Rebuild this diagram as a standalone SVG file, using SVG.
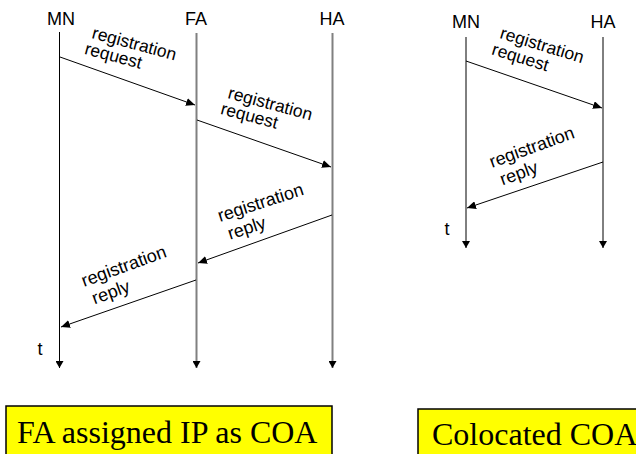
<svg xmlns="http://www.w3.org/2000/svg" width="636" height="454" viewBox="0 0 636 454">
<defs>
<marker id="ah" markerUnits="userSpaceOnUse" markerWidth="10" markerHeight="8" refX="9" refY="4" orient="auto">
<path d="M0,0 L9,4 L0,8 Z" fill="#000"/>
</marker>
<marker id="lh" markerUnits="userSpaceOnUse" markerWidth="8" markerHeight="8" refX="7" refY="4" orient="auto">
<path d="M0,0 L7,4 L0,8 Z" fill="#000"/>
</marker>
</defs>
<style>
.hd{font-family:"Liberation Sans",Arial,sans-serif;font-size:18px;fill:#000;text-anchor:middle}
.lb{font-family:"Liberation Sans",Arial,sans-serif;font-size:17.5px;fill:#000}
.lr{font-family:"Liberation Sans",Arial,sans-serif;font-size:18px;fill:#000}
.ll{stroke:#000;stroke-width:1;fill:none}
.lg{stroke:#808080;stroke-width:2;fill:none}
.msg{stroke:#000;stroke-width:1;fill:none;marker-end:url(#ah)}
.box{fill:#ffff00;stroke:#000;stroke-width:1.5}
</style>
<rect width="636" height="454" fill="#fff"/>

<g id="left-MN"><text class="hd" x="61" y="25">MN</text><line class="ll" x1="59.5" y1="32" x2="59.5" y2="368" marker-end="url(#lh)"/></g>
<g id="left-FA"><text class="hd" x="196" y="25">FA</text><line class="lg" x1="196.5" y1="33" x2="196.5" y2="368" marker-end="url(#lh)"/></g>
<g id="left-HA"><text class="hd" x="332" y="25">HA</text><line class="lg" x1="332.5" y1="33" x2="332.5" y2="368" marker-end="url(#lh)"/></g>
<g id="left-t"><text class="hd" x="40" y="355">t</text></g>

<g id="right-MN"><text class="hd" x="466" y="28">MN</text><line class="ll" x1="466" y1="37" x2="466" y2="248" marker-end="url(#lh)"/></g>
<g id="right-HA"><text class="hd" x="603" y="28">HA</text><line class="ll" x1="603" y1="37" x2="603" y2="248" marker-end="url(#lh)"/></g>
<g id="right-t"><text class="hd" x="447" y="235">t</text></g>

<g id="connectors">
<line class="msg" x1="60" y1="57" x2="195" y2="105"/>
<line class="msg" x1="197" y1="120" x2="331" y2="167"/>
<line class="msg" x1="332" y1="215" x2="198" y2="263"/>
<line class="msg" x1="196" y1="280" x2="61" y2="327"/>
<line class="msg" x1="466" y1="61" x2="602" y2="108"/>
<line class="msg" x1="603" y1="162" x2="467" y2="208"/>
</g>

<g id="label-req1" transform="translate(91,38) rotate(15)"><text class="lb" x="0" y="0">registration</text><text class="lb" x="-3" y="17">request</text></g>
<g id="label-req2" transform="translate(227,98) rotate(15)"><text class="lb" x="0" y="0">registration</text><text class="lb" x="-3" y="17">request</text></g>
<g id="label-rep1" transform="translate(220,222) rotate(-18)"><text class="lr" x="0" y="0">registration</text><text class="lr" x="4" y="20">reply</text></g>
<g id="label-rep2" transform="translate(84,287) rotate(-20)"><text class="lr" x="0" y="0">registration</text><text class="lr" x="4" y="20">reply</text></g>
<g id="label-req3" transform="translate(499,38) rotate(17)"><text class="lb" x="0" y="0">registration</text><text class="lb" x="-3" y="18">request</text></g>
<g id="label-rep3" transform="translate(492,168) rotate(-20)"><text class="lr" x="0" y="0">registration</text><text class="lr" x="4" y="20">reply</text></g>

<g id="box-fa"><rect class="box" x="6" y="406" width="326" height="60"/><text x="17" y="443" font-family="Liberation Serif" font-size="32" fill="#000">FA assigned IP as COA</text></g>
<g id="box-col"><rect class="box" x="418" y="409" width="240" height="60"/><text x="432" y="445" font-family="Liberation Serif" font-size="32" fill="#000">Colocated COA</text></g>
</svg>
